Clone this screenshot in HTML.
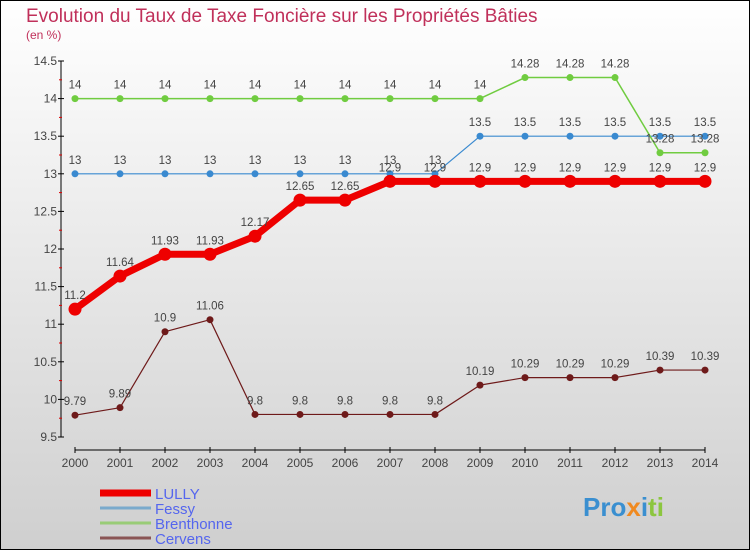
<!DOCTYPE html>
<html><head><meta charset="utf-8"><style>
body{margin:0}
svg{display:block;font-family:"Liberation Sans",sans-serif}
</style></head><body>
<svg id="c" width="750" height="550" xmlns="http://www.w3.org/2000/svg">
<defs><linearGradient id="bg" x1="0" y1="0" x2="0" y2="1"><stop offset="0" stop-color="#ffffff"/><stop offset="1" stop-color="#cfcfcf"/></linearGradient></defs>
<rect x="0.5" y="0.5" width="749" height="549" fill="url(#bg)" stroke="#000"/>
<text x="26" y="22" font-size="19" fill="#c0305a">Evolution du Taux de Taxe Foncière sur les Propriétés Bâties</text>
<text x="26" y="39" font-size="12" fill="#c0305a">(en %)</text>
<g id="axes"></g>
<g id="series"></g>
<g id="legend"></g>
<text x="583" y="516" font-size="26" font-weight="bold"><tspan fill="#3a8fd0">Pro</tspan><tspan fill="#f08a20">x</tspan><tspan fill="#3a8fd0">i</tspan><tspan fill="#8cc63f">ti</tspan></text>
</svg>
<script>
const years=[2000,2001,2002,2003,2004,2005,2006,2007,2008,2009,2010,2011,2012,2013,2014];
const yTicks=[9.5,10,10.5,11,11.5,12,12.5,13,13.5,14,14.5];
const lully=[11.2,11.64,11.93,11.93,12.17,12.65,12.65,12.9,12.9,12.9,12.9,12.9,12.9,12.9,12.9];
const fessy=[13,13,13,13,13,13,13,13,13,13.5,13.5,13.5,13.5,13.5,13.5];
const brenthonne=[14,14,14,14,14,14,14,14,14,14,14.28,14.28,14.28,13.28,13.28];
const cervens=[9.79,9.89,10.9,11.06,9.8,9.8,9.8,9.8,9.8,10.19,10.29,10.29,10.29,10.39,10.39];
const NS='http://www.w3.org/2000/svg';
const X=i=>75+i*45;
const Y=v=>437-(v-9.5)*75.2;
function mk(p,t,a){const e=document.createElementNS(NS,t);for(const k in a)e.setAttribute(k,a[k]);p.appendChild(e);return e;}
const ax=document.getElementById('axes');
let l=mk(ax,'line',{x1:61,y1:Y(14.5),x2:61,y2:Y(9.5),stroke:'#000'});


l=mk(ax,'line',{x1:X(0),y1:450,x2:X(14),y2:450,stroke:'#000'});


yTicks.forEach((v,i)=>{
 mk(ax,'line',{x1:58,y1:Y(v),x2:64,y2:Y(v),stroke:'#000'});
 if(i<yTicks.length-1)mk(ax,'line',{x1:59,y1:Y(v+0.25),x2:62,y2:Y(v+0.25),stroke:'#d00'});
 const t=mk(ax,'text',{x:57,y:Y(v)+4,'font-size':12,'text-anchor':'end',fill:'#444'});
 t.textContent=String(v);
 
 
});
years.forEach((y,i)=>{
 mk(ax,'line',{x1:X(i),y1:447,x2:X(i),y2:453,stroke:'#000'});
 const t=mk(ax,'text',{x:X(i),y:467,'font-size':12,'text-anchor':'middle',fill:'#444'});
 t.textContent=y;
 
 
});
const sg=document.getElementById('series');
function draw(vals,color,w,r,name){
 const g=mk(sg,'g',{});
 
 
 const pl=mk(g,'polyline',{points:vals.map((v,i)=>X(i)+','+Y(v)).join(' '),fill:'none',stroke:color,'stroke-width':w,'stroke-linejoin':'round'});
 
 
 vals.forEach((v,i)=>{
  const c=mk(g,'circle',{cx:X(i),cy:Y(v),r:r,fill:color});
  
  
  const t=mk(g,'text',{x:X(i),y:Y(v)-10,'font-size':11.5,'text-anchor':'middle',fill:'#444'});
  t.textContent=String(v);
  
  
 });
}
draw(cervens,'#6e1a1a',1.2,3.5,'cervens');
draw(fessy,'#3a8ad0',1.2,3.5,'fessy');
draw(brenthonne,'#70cc40',1.5,3.5,'brenthonne');
draw(lully,'#ee0000',7,6.5,'lully');
const lg=document.getElementById('legend');
[['LULLY','#ee0000',7],['Fessy','#7aaacc',3],['Brenthonne','#99cc77',3],['Cervens','#8a5555',3]].forEach((e,i)=>{
 const y=493+i*15;
 const g=mk(lg,'g',{});
 
 
 mk(g,'line',{x1:100,y1:y,x2:151,y2:y,stroke:e[1],'stroke-width':e[2]});
 const t=mk(g,'text',{x:155,y:y+6,'font-size':15,fill:'#5566ee'});
 t.textContent=e[0];
});
</script>
</body></html>
